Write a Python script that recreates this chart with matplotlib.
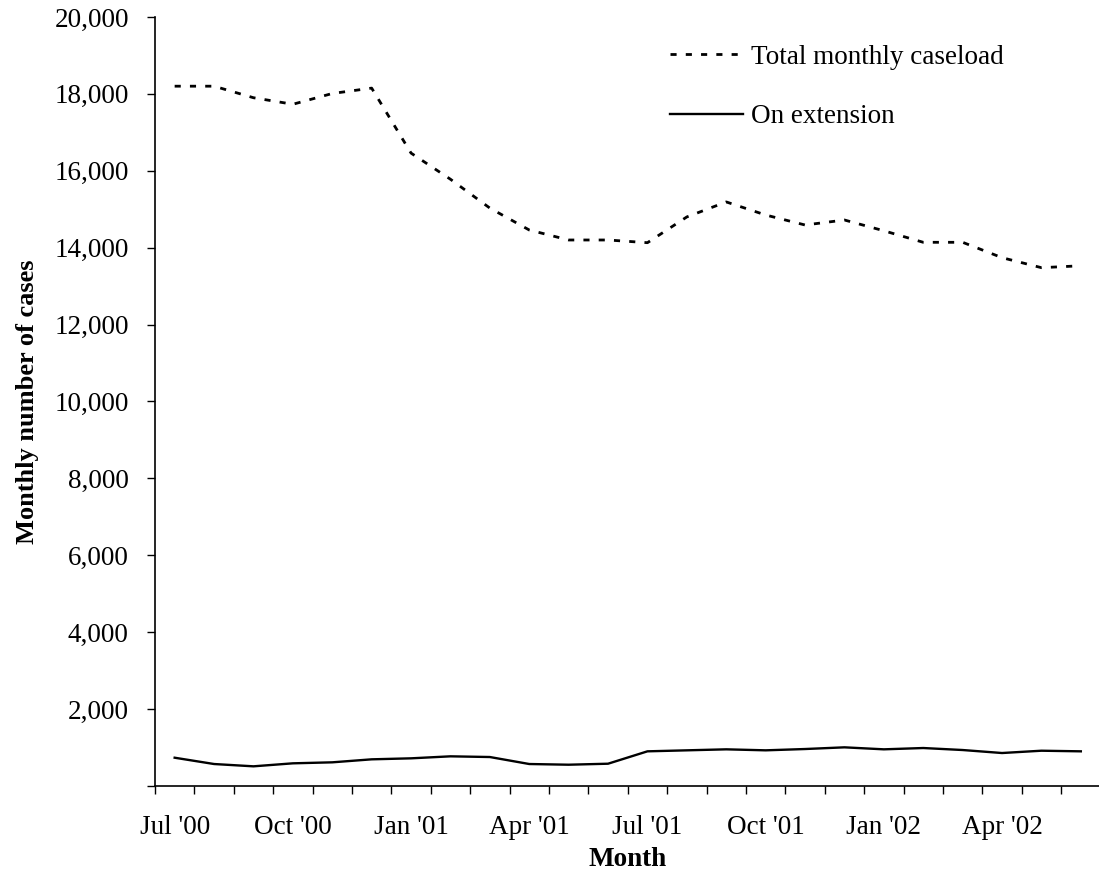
import numpy as np
import matplotlib.pyplot as plt
from matplotlib.ticker import FuncFormatter, FixedLocator

plt.rcParams['font.family'] = ['Liberation Serif', 'DejaVu Serif']

# Monthly data, Jul 2000 - Jun 2002
months = ["Jul '00", "Aug '00", "Sep '00", "Oct '00", "Nov '00", "Dec '00",
          "Jan '01", "Feb '01", "Mar '01", "Apr '01", "May '01", "Jun '01",
          "Jul '01", "Aug '01", "Sep '01", "Oct '01", "Nov '01", "Dec '01",
          "Jan '02", "Feb '02", "Mar '02", "Apr '02", "May '02", "Jun '02"]
total_caseload = [18200, 18200, 17900, 17730, 18010, 18150,
                  16460, 15780, 15030, 14460, 14200, 14200,
                  14130, 14800, 15190, 14850, 14590, 14720,
                  14440, 14140, 14140, 13740, 13480, 13530]
on_extension = [736, 572, 512, 590, 616, 694,
                720, 772, 754, 572, 554, 580,
                902, 928, 954, 928, 962, 1006,
                954, 988, 936, 858, 918, 902]

x = np.arange(len(months)) + 0.5
fs = 19.5

fig = plt.figure(figsize=(10.99, 8.75), dpi=100)
ax = fig.add_axes([0.1410, 0.1017, 0.8604, 0.8789])

ax.plot(x, total_caseload, color='black', linewidth=2.0, dashes=(2.2, 3.3),
        label='Total monthly caseload')
ax.plot(x, on_extension, color='black', linewidth=1.7, label='On extension')

ax.set_xlim(0, len(months))
ax.set_ylim(0, 20000)

# y axis
ax.set_yticks(np.arange(0, 20001, 2000))
ax.yaxis.set_major_formatter(FuncFormatter(lambda v, p: '' if v == 0 else f'{int(v):,}'))
ax.tick_params(axis='y', direction='out', length=5.8, width=1, labelsize=fs, pad=13)

# x axis: ticks between categories, labels every third month
ax.xaxis.set_major_locator(FixedLocator(np.arange(0, len(months) + 1)))
ax.xaxis.set_minor_locator(FixedLocator(x[::3]))
ax.set_xticklabels([])
ax.set_xticklabels(months[::3], minor=True)
ax.tick_params(axis='x', which='major', direction='out', length=5.8, width=1)
ax.tick_params(axis='x', which='minor', length=0, labelsize=fs, pad=21)

for s in ['top', 'right']:
    ax.spines[s].set_visible(False)
for s in ['left', 'bottom']:
    ax.spines[s].set_linewidth(1.2)

ax.set_xlabel('Month', fontsize=fs, fontweight='bold', labelpad=5)
ax.set_ylabel('Monthly number of cases', fontsize=19, fontweight='bold', labelpad=11)

ax.legend(loc='upper left', bbox_to_anchor=(0.6096, 0.949),
          bbox_transform=fig.transFigure, frameon=False, borderpad=0,
          borderaxespad=0, fontsize=fs, handlelength=2.7, handletextpad=0.28,
          labelspacing=1.28)

fig.savefig('out.png', dpi=100)
